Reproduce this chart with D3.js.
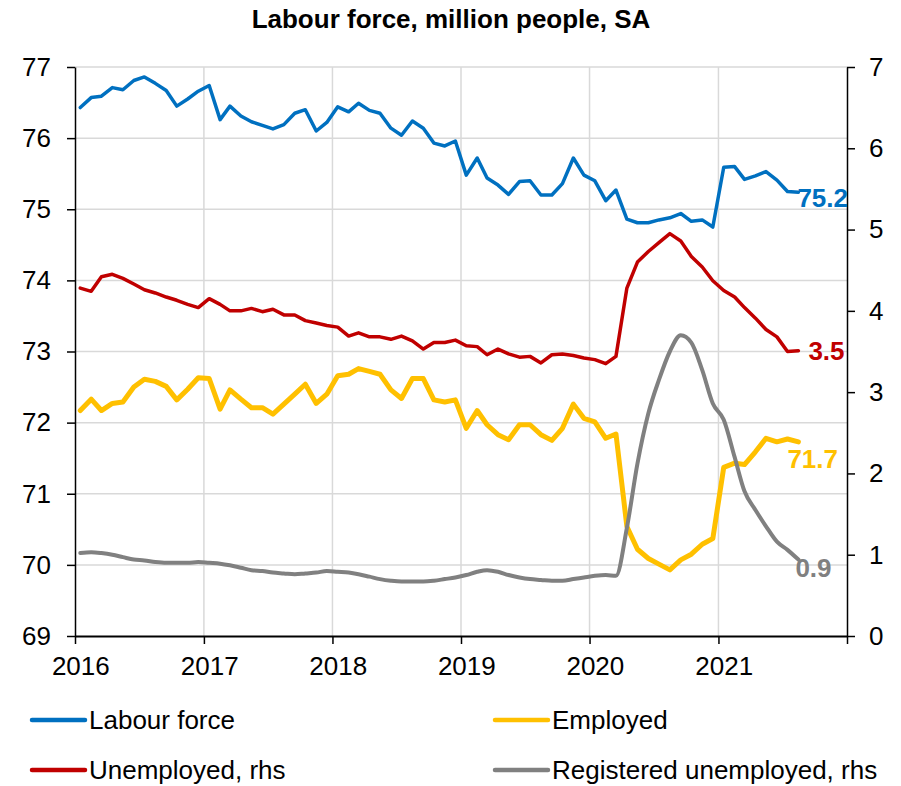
<!DOCTYPE html>
<html>
<head>
<meta charset="utf-8">
<script src="https://cdn.jsdelivr.net/npm/d3@7"></script>
<style>
  html, body { margin: 0; padding: 0; background: #fff; }
  svg { display: block; font-family: "Liberation Sans", Arial, sans-serif; }
</style>
</head>
<body>
<svg id="chart" width="901" height="786"></svg>
<script>
// Monthly observations, Jan 2016 – Aug 2021
const startMonth = new Date(2016, 0, 1);
const endMonth = new Date(2021, 8, 1);
const months = d3.timeMonth.range(startMonth, endMonth);

// Left axis, million people
const labourForce = [
  76.43, 76.57, 76.59, 76.71, 76.68, 76.81, 76.86, 76.77, 76.67, 76.45, 76.55, 76.66,
  76.74, 76.26, 76.45, 76.31, 76.23, 76.18, 76.13, 76.19, 76.35, 76.40, 76.10, 76.22,
  76.44, 76.37, 76.49, 76.39, 76.35, 76.14, 76.04, 76.24, 76.14, 75.93, 75.89, 75.96,
  75.48, 75.72, 75.44, 75.34, 75.21, 75.39, 75.40, 75.20, 75.20, 75.36, 75.72, 75.48,
  75.40, 75.12, 75.27, 74.86, 74.81, 74.81, 74.85, 74.88, 74.94, 74.83, 74.85, 74.75,
  75.59, 75.60, 75.42, 75.47, 75.53, 75.41, 75.25, 75.24
];
const employed = [
  72.17, 72.33, 72.17, 72.27, 72.29, 72.50, 72.61, 72.58, 72.51, 72.32, 72.47, 72.63,
  72.62, 72.19, 72.46, 72.33, 72.21, 72.21, 72.12, 72.26, 72.40, 72.54, 72.27, 72.40,
  72.66, 72.68, 72.76, 72.72, 72.68, 72.46, 72.34, 72.62, 72.62, 72.32, 72.29, 72.32,
  71.92, 72.17, 71.97, 71.83, 71.76, 71.97, 71.97, 71.83, 71.75, 71.92, 72.26, 72.06,
  72.01, 71.78, 71.84, 70.54, 70.22, 70.09, 70.01, 69.93, 70.07, 70.15, 70.29, 70.37,
  71.37, 71.43, 71.41, 71.59, 71.78, 71.73, 71.77, 71.73
];
// Right axis, million people
const unemployed = [
  4.28, 4.24, 4.42, 4.45, 4.40, 4.33, 4.26, 4.22, 4.17, 4.13, 4.08, 4.04,
  4.15, 4.08, 4.00, 4.00, 4.03, 3.99, 4.02, 3.95, 3.95, 3.88, 3.85, 3.82,
  3.80, 3.69, 3.73, 3.68, 3.68, 3.65, 3.69, 3.63, 3.53, 3.61, 3.61, 3.64,
  3.57, 3.56, 3.46, 3.53, 3.47, 3.43, 3.44, 3.36, 3.46, 3.47, 3.45, 3.42,
  3.40, 3.35, 3.44, 4.28, 4.60, 4.73, 4.84, 4.95, 4.86, 4.67, 4.54, 4.37,
  4.25, 4.17, 4.04, 3.91, 3.77, 3.68, 3.50, 3.51
];
const registeredUnemployed = [
  1.02, 1.03, 1.02, 1.00, 0.97, 0.94, 0.93, 0.91, 0.90, 0.90, 0.90, 0.91,
  0.90, 0.89, 0.87, 0.84, 0.81, 0.80, 0.78, 0.77, 0.76, 0.77, 0.78, 0.80,
  0.79, 0.78, 0.76, 0.73, 0.70, 0.68, 0.67, 0.67, 0.67, 0.68, 0.70, 0.72,
  0.75, 0.79, 0.81, 0.79, 0.75, 0.72, 0.70, 0.69, 0.68, 0.68, 0.70, 0.72,
  0.74, 0.75, 0.74, 1.33, 2.12, 2.74, 3.15, 3.50, 3.70, 3.61, 3.27, 2.86,
  2.66, 2.20, 1.78, 1.55, 1.35, 1.16, 1.06, 0.94
];

const leftTicks = [69, 70, 71, 72, 73, 74, 75, 76, 77];
const rightTicks = [0, 1, 2, 3, 4, 5, 6, 7];
const yearTicks = [2016, 2017, 2018, 2019, 2020, 2021, 2022];

const title = "Labour force, million people, SA";

const series = [
  { name: "Labour force", values: labourForce, axis: "left", color: "#0070C0", width: 3.5,
    curve: d3.curveLinear, labelDx: -1, labelDy: 15 },
  { name: "Employed", values: employed, axis: "left", color: "#FFC000", width: 5,
    curve: d3.curveLinear, labelDx: -11, labelDy: 26 },
  { name: "Unemployed, rhs", values: unemployed, axis: "right", color: "#C00000", width: 3.5,
    curve: d3.curveLinear, labelDx: 10, labelDy: 9 },
  { name: "Registered unemployed, rhs", values: registeredUnemployed, axis: "right", color: "#808080", width: 4,
    curve: d3.curveMonotoneX, labelDx: -3, labelDy: 17 }
];

const svg = d3.select("#chart");
const font = 26;

const plot = { left: 75, right: 847, top: 67, bottom: 636 };

const x = d3.scaleTime()
  .domain([new Date(2016, 0, 1), new Date(2022, 0, 1)])
  .range([plot.left, plot.right]);
const yL = d3.scaleLinear().domain([69, 77]).range([plot.bottom, plot.top]);
const yR = d3.scaleLinear().domain([0, 7]).range([plot.bottom, plot.top]);

// each month is plotted at its middle
const midMonth = d => new Date(d.getFullYear(), d.getMonth(), 16);
const halfMonth = x(new Date(2016, 0, 16)) - x(new Date(2016, 0, 1));

// Title
svg.append("text")
  .attr("x", 451).attr("y", 28)
  .attr("text-anchor", "middle")
  .attr("font-size", font).attr("font-weight", "bold")
  .attr("fill", "#000")
  .text(title);

// Gridlines
const grid = svg.append("g").attr("stroke", "#d9d9d9").attr("stroke-width", 1.5);
grid.selectAll("line.h")
  .data(leftTicks.filter(t => t > 69))
  .join("line")
  .attr("x1", plot.left).attr("x2", plot.right)
  .attr("y1", d => yL(d)).attr("y2", d => yL(d));
grid.selectAll("line.v")
  .data(yearTicks.filter(t => t > 2016 && t < 2022))
  .join("line")
  .attr("x1", d => x(new Date(d, 0, 1))).attr("x2", d => x(new Date(d, 0, 1)))
  .attr("y1", plot.top).attr("y2", plot.bottom);

// Axes
function styleAxis(g, width) {
  g.selectAll(".domain").attr("stroke", "#000").attr("stroke-width", width);
  g.selectAll(".tick line").attr("stroke", "#000").attr("stroke-width", 1.5);
  g.selectAll("text").attr("font-size", font).attr("fill", "#000")
    .attr("font-family", "'Liberation Sans', Arial, sans-serif");
}

const leftAxis = svg.append("g")
  .attr("transform", `translate(${plot.left},0)`)
  .call(d3.axisLeft(yL).tickValues(leftTicks).tickFormat(d3.format("d"))
    .tickSize(8).tickSizeOuter(0).tickPadding(16));
styleAxis(leftAxis, 1.5);

const rightAxis = svg.append("g")
  .attr("transform", `translate(${plot.right},0)`)
  .call(d3.axisRight(yR).tickValues(rightTicks).tickFormat(d3.format("d"))
    .tickSize(8).tickSizeOuter(0).tickPadding(14));
styleAxis(rightAxis, 1.5);

const bottomAxis = svg.append("g")
  .attr("transform", `translate(0,${plot.bottom})`)
  .call(d3.axisBottom(x).tickValues(yearTicks.map(yr => new Date(yr, 0, 1)))
    .tickFormat(d => d.getFullYear() < 2022 ? d3.timeFormat("%Y")(d) : "")
    .tickSize(8).tickSizeOuter(0).tickPadding(13));
styleAxis(bottomAxis, 2);
bottomAxis.selectAll(".tick text").attr("x", halfMonth);

// Series lines
series.forEach(s => {
  const y = s.axis === "left" ? yL : yR;
  const pts = s.values.map((v, i) => ({ date: midMonth(months[i]), value: v }));
  const line = d3.line().x(d => x(d.date)).y(d => y(d.value)).curve(s.curve);
  svg.append("path")
    .datum(pts)
    .attr("fill", "none")
    .attr("stroke", s.color)
    .attr("stroke-width", s.width)
    .attr("stroke-linejoin", "round")
    .attr("stroke-linecap", "round")
    .attr("d", line);
  s.last = pts[pts.length - 1];
  s.scale = y;
});

// End-of-series value labels
series.forEach(s => {
  svg.append("text")
    .attr("x", x(s.last.date) + s.labelDx)
    .attr("y", s.scale(s.last.value) + s.labelDy)
    .attr("font-size", font).attr("font-weight", "bold")
    .attr("fill", s.color)
    .text(d3.format(".1f")(s.last.value));
});

// Legend
const legendPos = [
  { x: 32, y: 720 }, { x: 495, y: 720 },
  { x: 32, y: 770 }, { x: 495, y: 770 }
];
const legendOrder = ["Labour force", "Employed", "Unemployed, rhs", "Registered unemployed, rhs"];
legendOrder.forEach((name, i) => {
  const s = series.find(d => d.name === name);
  const p = legendPos[i];
  const g = svg.append("g").attr("transform", `translate(${p.x},${p.y})`);
  g.append("line")
    .attr("x1", 0).attr("x2", 53).attr("y1", 0).attr("y2", 0)
    .attr("stroke", s.color).attr("stroke-width", 4.5).attr("stroke-linecap", "round");
  g.append("text")
    .attr("x", 57).attr("y", 9)
    .attr("font-size", font).attr("fill", "#000")
    .text(s.name);
});
</script>
</body>
</html>
